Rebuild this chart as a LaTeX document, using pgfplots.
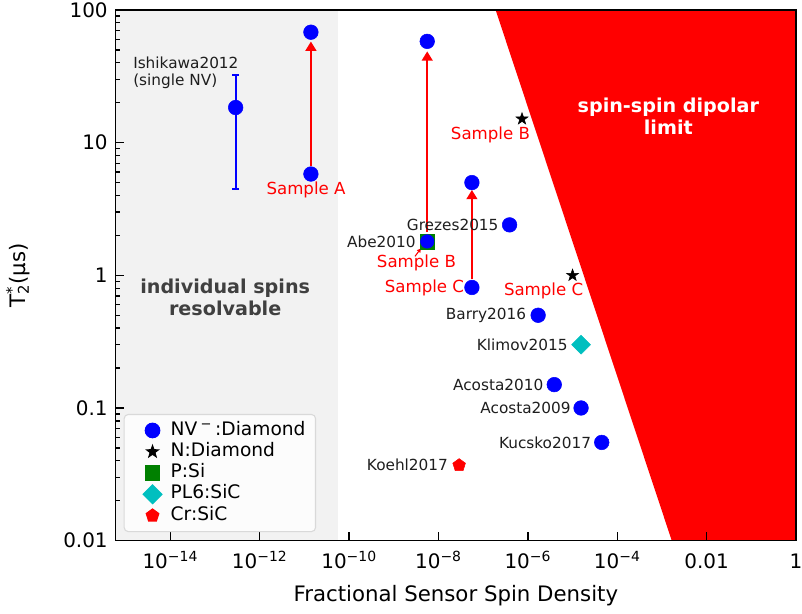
\documentclass[border=0pt]{standalone}
\usepackage{fontspec}
\setmainfont{DejaVu Sans}
\usepackage{pgfplots}
\pgfplotsset{compat=1.18}
\usetikzlibrary{arrows.meta,plotmarks}

\pgfdeclareplotmark{fstar}{%
  \pgfpathmoveto{\pgfpointpolar{90}{\pgfplotmarksize}}%
  \pgfpathlineto{\pgfpointpolar{126}{0.40*\pgfplotmarksize}}%
  \pgfpathlineto{\pgfpointpolar{162}{\pgfplotmarksize}}%
  \pgfpathlineto{\pgfpointpolar{198}{0.40*\pgfplotmarksize}}%
  \pgfpathlineto{\pgfpointpolar{234}{\pgfplotmarksize}}%
  \pgfpathlineto{\pgfpointpolar{270}{0.40*\pgfplotmarksize}}%
  \pgfpathlineto{\pgfpointpolar{306}{\pgfplotmarksize}}%
  \pgfpathlineto{\pgfpointpolar{342}{0.40*\pgfplotmarksize}}%
  \pgfpathlineto{\pgfpointpolar{18}{\pgfplotmarksize}}%
  \pgfpathlineto{\pgfpointpolar{54}{0.40*\pgfplotmarksize}}%
  \pgfpathclose
  \pgfusepathqfillstroke
}

\definecolor{plc}{RGB}{0,191,191}
\definecolor{annot}{RGB}{30,30,30}
\definecolor{regtext}{RGB}{64,64,64}

\pgfplotsset{lgd/.style={legend image code/.code={\pgfpathrectangle{\pgfpoint{0pt}{-1pt}}{\pgfpoint{27.5pt}{2pt}}\pgfusepath{discard}\draw[##1,fill opacity=1,draw opacity=1] plot coordinates {(15.3pt,0pt)};}}}

\begin{document}
\begin{tikzpicture}
\begin{axis}[
  name=ax,
  scale only axis,
  width=511.5pt, height=399pt,
  xmode=log, ymode=log,
  xmin=6e-16, xmax=1, ymin=0.01, ymax=100,
  axis on top,
  axis line style={line width=1.1pt, black},
  xtick={1e-14,1e-12,1e-10,1e-8,1e-6,1e-4,1e-2,1},
  xticklabels={10\textsuperscript{−14},10\textsuperscript{−12},10\textsuperscript{−10},10\textsuperscript{−8},10\textsuperscript{−6},10\textsuperscript{−4},0.01,1},
  minor xtick={},
  ytick={0.01,0.1,1,10,100},
  yticklabels={0.01,0.1,1,10,100},
  minor ytick={0.02,0.03,0.04,0.05,0.06,0.07,0.08,0.09,0.2,0.3,0.4,0.5,0.6,0.7,0.8,0.9,2,3,4,5,6,7,8,9,20,30,40,50,60,70,80,90},
  xtick pos=left, ytick pos=left,
  tick align=inside,
  major tick length=6.5pt, minor tick length=3.3pt,
  every tick/.style={black, line width=1pt},
  ticklabel style={font=\fontsize{15}{18}\selectfont},
  xticklabel style={anchor=base, yshift=-21pt},
  yticklabel style={anchor=east, xshift=-2.5pt},
  xlabel={Fractional Sensor Spin Density},
  ylabel={T\rlap{\textsuperscript{*}}\textsubscript{2}(μs)},
  label style={font=\fontsize{16}{19}\selectfont},
  xlabel style={at={(axis description cs:0.5,-0.1034)}, anchor=center},
  ylabel style={at={(axis description cs:-0.1437,0.5)}, anchor=center},
  legend style={at={(0.0117,0.2387)}, anchor=north west, draw=black!15, line width=0.8pt,
    rounded corners=3pt, fill=white, fill opacity=0.8, text opacity=1, draw opacity=1,
    font=\fontsize{14}{16}\selectfont, inner xsep=6pt, inner ysep=4pt, row sep=0pt,
    nodes={inner sep=1.5pt, text height=10pt, text depth=3pt}},
  legend cell align=left,
]
% shaded regions
\addplot[draw=none, fill=black!5, forget plot] coordinates {(6e-16,0.01)(5.7e-11,0.01)(5.7e-11,100)(6e-16,100)} -- cycle;
\addplot[draw=none, fill=red, forget plot] coordinates {(1.9e-7,100)(1,100)(1,0.01)(1.66e-3,0.01)} -- cycle;
% arrows
\addplot[red, line width=1.8pt, -{Triangle[length=7pt,width=8pt]}, shorten <=6.2pt, shorten >=7pt, forget plot] coordinates {(1.4e-11,5.8)(1.4e-11,68)};
\addplot[red, line width=1.8pt, -{Triangle[length=7pt,width=8pt]}, shorten <=7pt, shorten >=7.5pt, forget plot] coordinates {(5.6e-9,1.8)(5.6e-9,58)};
\addplot[red, line width=1.8pt, -{Triangle[length=7pt,width=8pt]}, shorten <=6.2pt, shorten >=5.5pt, forget plot] coordinates {(5.6e-8,0.81)(5.6e-8,5.0)};
% error bar Ishikawa
\addplot[blue, line width=1.5pt, mark=-, mark size=2.6pt, mark options={line width=1.5pt}, forget plot] coordinates {(2.9e-13,4.5)(2.9e-13,32.4)};
% NV- diamond
\addplot[only marks, lgd, mark=*, mark size=5.5pt, mark options={draw=blue, fill=blue}] coordinates {
 (2.9e-13,18.4) (1.4e-11,5.8) (1.4e-11,68) (5.6e-9,58) (5.6e-8,0.81) (5.6e-8,5.0)
 (3.9e-7,2.4) (1.7e-6,0.5) (3.9e-6,0.15) (1.55e-5,0.1) (4.5e-5,0.055)};
\addlegendentry{NV\,\textsuperscript{−}\,:Diamond}
\addplot[only marks, lgd, mark=fstar, mark size=4.7pt, mark options={draw=black, fill=black}] coordinates {(7.4e-7,15.1)(1.0e-5,1.0)};
\addlegendentry{N:Diamond}
\addplot[only marks, lgd, mark=square*, mark size=5.5pt, mark options={draw=black!50!green, fill=black!50!green}] coordinates {(5.6e-9,1.8)};
\addlegendentry{P:Si}
\addplot[only marks, lgd, mark=square*, mark size=5pt, mark options={draw=plc, fill=plc, rotate=45}] coordinates {(1.55e-5,0.3)};
\addlegendentry{PL6:SiC}
\addplot[only marks, lgd, mark=pentagon*, mark size=5pt, mark options={draw=red, fill=red}] coordinates {(2.9e-8,0.037)};
\addlegendentry{Cr:SiC}
\addplot[only marks, mark=*, mark size=5.1pt, mark options={draw=blue, fill=blue}, forget plot] coordinates {(5.6e-9,1.8)};

% annotations
\begin{scope}[every node/.style={inner sep=0pt, font=\fontsize{11.5}{14}\selectfont, text=annot}]
\node[anchor=west] at (rel axis cs:0.0254,0.8998) {Ishikawa2012};
\node[anchor=west] at (rel axis cs:0.0254,0.8652) {(single NV)};
\node[anchor=east] at (rel axis cs:0.4413,0.5639) {Abe2010};
\node[anchor=east] at (rel axis cs:0.5630,0.5945) {Grezes2015};
\node[anchor=east] at (rel axis cs:0.6037,0.4248) {Barry2016};
\node[anchor=east] at (rel axis cs:0.6647,0.3684) {Klimov2015};
\node[anchor=east] at (rel axis cs:0.6290,0.2932) {Acosta2010};
\node[anchor=east] at (rel axis cs:0.6691,0.2494) {Acosta2009};
\node[anchor=east] at (rel axis cs:0.6990,0.1842) {Kucsko2017};
\node[anchor=east] at (rel axis cs:0.4887,0.1429) {Koehl2017};
\end{scope}
\begin{scope}[every node/.style={inner sep=0pt, font=\fontsize{12.5}{15}\selectfont, text=red}]
\node at (rel axis cs:0.2798,0.6603) {Sample A};
\node at (rel axis cs:0.5509,0.7650) {Sample B};
\node at (rel axis cs:0.4421,0.5239) {Sample B};
\node at (rel axis cs:0.4538,0.4769) {Sample C};
\node at (rel axis cs:0.6290,0.4699) {Sample C};
\end{scope}
\draw[red, line width=0.8pt, -{Triangle[length=3pt,width=3pt]}] (rel axis cs:0.4399,0.5357) -- (rel axis cs:0.4487,0.5508);
\begin{scope}[every node/.style={inner sep=0pt, font=\bfseries\fontsize{14.4}{17}\selectfont}]
\node[text=regtext] at (rel axis cs:0.1609,0.4756) {individual spins};
\node[text=regtext] at (rel axis cs:0.1609,0.4380) {resolvable};
\node[text=white] at (rel axis cs:0.8123,0.8177) {spin-spin dipolar};
\node[text=white] at (rel axis cs:0.8123,0.7782) {limit};
\end{scope}
\end{axis}
\pgfresetboundingbox
\path ([xshift=-87pt,yshift=-54.75pt]ax.south west) rectangle ([xshift=4.5pt,yshift=7.5pt]ax.north east);
\end{tikzpicture}
\end{document}
